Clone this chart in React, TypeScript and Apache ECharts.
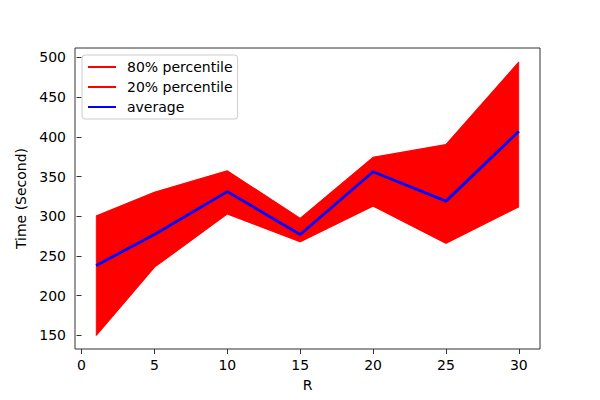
import React, { useEffect, useRef } from "react";
import * as echarts from "echarts";

const xValues = [1, 5, 10, 15, 20, 25, 30];
const upper80 = [300, 330, 357, 297, 374, 390, 494];
const lower20 = [150, 236, 303, 268, 313, 266, 312];
const average = [238, 277, 331, 277, 356, 319, 407];
const xTicks = [0, 5, 10, 15, 20, 25, 30];
const yTicks = [150, 200, 250, 300, 350, 400, 450, 500];

const FONT = "DejaVu Sans";

export default function App() {
  const ref = useRef<HTMLDivElement>(null);
  useEffect(() => {
    if (!ref.current) return;
    const chart = echarts.init(ref.current, undefined, { renderer: "svg" });
    const pair = (ys: number[]) => xValues.map((x, i) => [x, ys[i]]);
    const bandData = xValues.map((x, i) => [x, lower20[i], upper80[i]]);
    chart.setOption({
      animation: false,
      backgroundColor: "#ffffff",
      textStyle: { fontFamily: FONT },
      grid: {
        left: 75,
        right: 60,
        top: 48,
        bottom: 51,
        show: true,
        borderColor: "#333",
        borderWidth: 1,
        backgroundColor: "transparent",
      },
      legend: {
        orient: "vertical",
        left: 82,
        top: 55,
        padding: [5, 5, 5, 5],
        itemGap: 6,
        itemWidth: 28,
        itemHeight: 14,
        borderColor: "#cccccc",
        borderWidth: 1,
        borderRadius: 3,
        backgroundColor: "rgba(255,255,255,0.8)",
        itemStyle: { opacity: 0 },
        textStyle: { fontFamily: FONT, fontSize: 14, color: "#000", padding: [0, 0, 0, 6] },
        data: ["80% percentile", "20% percentile", "average"],
      },
      xAxis: {
        type: "value",
        min: -0.45,
        max: 31.45,
        name: "R",
        nameLocation: "middle",
        nameGap: 29,
        nameTextStyle: { fontFamily: FONT, fontSize: 14, color: "#000" },
        axisLine: { show: false },
        axisTick: {
          show: true,
          length: 5,
          inside: false,
          lineStyle: { color: "#333", width: 1 },
          customValues: xTicks,
        },
        axisLabel: {
          fontFamily: FONT,
          fontSize: 14,
          color: "#000",
          margin: 9,
          customValues: xTicks,
        },
        splitLine: { show: false },
      },
      yAxis: {
        type: "value",
        min: 132.8,
        max: 511.8,
        name: "Time (Second)",
        nameLocation: "middle",
        nameGap: 35,
        nameTextStyle: { fontFamily: FONT, fontSize: 14, color: "#000" },
        axisLine: { show: false },
        axisTick: {
          show: true,
          length: 5,
          inside: false,
          lineStyle: { color: "#333", width: 1 },
          customValues: yTicks,
        },
        axisLabel: {
          fontFamily: FONT,
          fontSize: 14,
          color: "#000",
          margin: 9,
          customValues: yTicks,
        },
        splitLine: { show: false },
      },
      series: [
        {
          name: "band",
          type: "custom",
          silent: true,
          data: bandData,
          encode: { x: 0, y: [1, 2] },
          renderItem: (params: any, api: any) => {
            if (params.dataIndex !== 0) return null;
            const top = xValues.map((x, i) => api.coord([x, upper80[i]]));
            const bottom = xValues
              .map((x, i) => api.coord([x, lower20[i]]))
              .reverse();
            return {
              type: "polygon",
              shape: { points: top.concat(bottom) },
              style: { fill: "#ff0000", stroke: "#ff0000", lineWidth: 0.5 },
            };
          },
          z: 1,
        },
        {
          name: "80% percentile",
          type: "line",
          data: pair(upper80),
          symbol: "none",
          color: "#ff0000",
          lineStyle: { color: "#ff0000", width: 1.3 },
          z: 2,
        },
        {
          name: "20% percentile",
          type: "line",
          data: pair(lower20),
          symbol: "none",
          color: "#ff0000",
          lineStyle: { color: "#ff0000", width: 1.3 },
          z: 2,
        },
        {
          name: "average",
          type: "line",
          data: pair(average),
          symbol: "none",
          color: "#0000ff",
          lineStyle: { color: "#0000ff", width: 2.8 },
          z: 3,
        },
      ],
    });
    return () => chart.dispose();
  }, []);
  return (
    <div
      ref={ref}
      style={{ position: "fixed", left: 0, top: 0, width: 600, height: 400, background: "#fff" }}
    />
  );
}
